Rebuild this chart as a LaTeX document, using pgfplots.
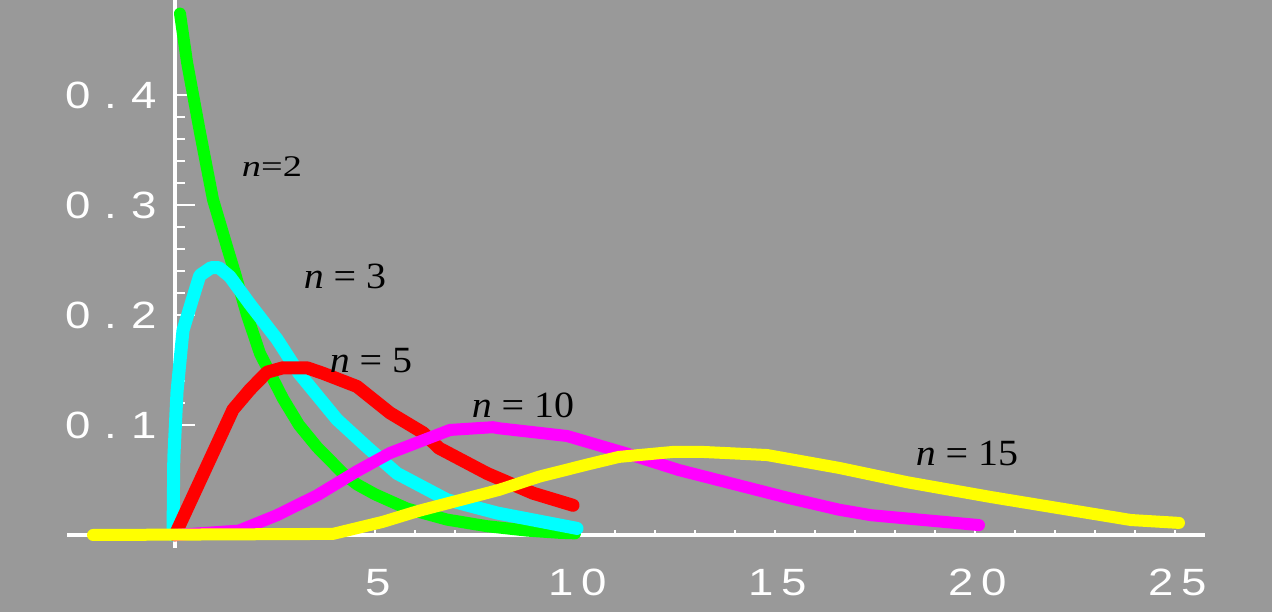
\documentclass[border=0pt]{standalone}
\usepackage{pgfplots}
\pgfplotsset{compat=1.18}
\usepackage{fontspec}
\setmainfont{Liberation Serif}
\newfontfamily\tickfont{Liberation Sans}
\definecolor{bg}{HTML}{999999}
\definecolor{cgreen}{RGB}{0,255,0}
\definecolor{ccyan}{RGB}{0,255,255}
\definecolor{cred}{RGB}{255,0,0}
\definecolor{cmag}{RGB}{255,0,255}
\definecolor{cyel}{RGB}{255,255,0}
\newcommand\cell[1]{\makebox[33pt]{\scalebox{1.2}[1]{#1}}}
\newcommand\lab[2]{\scalebox{#1}[1]{#2}}
\begin{document}
\begin{tikzpicture}[x=1pt,y=1pt]
\fill[bg] (0,0) rectangle (1272,612);
\path[use as bounding box] (0,0) rectangle (1272,612);
\pgfplotsset{common/.style={
  at={(67pt,63.8pt)}, anchor=south west,
  scale only axis, width=1138pt, height=547.8pt,
  xmin=-2.7, xmax=25.75, ymin=-0.012, ymax=0.486,
  clip=false, axis lines=middle}}
% x-axis small ticks
\begin{axis}[common,
  axis line style={draw=none},
  ytick=\empty,
  xtick={-2,-1,1,2,3,4,5,6,7,8,9,10,11,12,13,14,15,16,17,18,19,20,21,22,23,24,25},
  xticklabels=\empty,
  tick align=inside,
  major tick length=5pt,
  every tick/.style={white, line width=2pt},
]
\end{axis}
\begin{axis}[common,
  axis line style={white, line width=3.5pt, -},
  every tick/.style={white, line width=2pt},
  tick align=inside,
  xtick={5,10,15,20,25},
  xticklabels={\cell{5},\cell{1}\cell{0},\cell{1}\cell{5},\cell{2}\cell{0},\cell{2}\cell{5}},
  major x tick style={draw=none},
  ytick={0.1,0.2,0.3,0.4},
  yticklabels={\cell{0}\cell{.}\cell{1},\cell{0}\cell{.}\cell{2},\cell{0}\cell{.}\cell{3},\cell{0}\cell{.}\cell{4}},
  minor y tick num=4,
  major tick length=20pt, minor tick length=10pt,
  ticklabel style={font=\tickfont\fontsize{38}{40}\selectfont, text=white, inner sep=0pt},
  xticklabel style={anchor=base, xshift=3pt, yshift=-61pt},
  yticklabel style={anchor=base east, xshift=-14pt, yshift=-14pt},
  every axis plot/.append style={line join=round, line cap=round},
]
\addplot[cgreen, line width=12pt] coordinates {
(0.125,0.474) (0.3,0.43) (0.625,0.366) (0.95,0.305) (1.3,0.262) (1.5,0.238)
(1.8,0.2) (2.125,0.165) (2.7,0.124) (3.1,0.1) (3.55,0.08) (4.2,0.056)
(4.55,0.046) (5.0,0.037) (5.8,0.024) (6.8,0.014) (7.8,0.008) (8.8,0.004)
(9.6,0.002) (10,0.0015)};
\addplot[ccyan, line width=13pt] coordinates {
(-0.05,0.0) (-0.03,0.07) (0.05,0.13) (0.2,0.186) (0.45,0.216) (0.62,0.236)
(0.9,0.243) (1.1,0.243) (1.37,0.235) (1.87,0.21) (2.55,0.178) (3.1,0.147)
(4.05,0.105) (4.8,0.08) (5.55,0.056) (6.8,0.032) (8.05,0.02) (10.05,0.006)};
\addplot[cred, line width=13pt] coordinates {
(0,0) (1.45,0.114) (1.87,0.132) (2.3,0.148) (2.7,0.152) (3.3,0.152)
(3.7,0.147) (4.55,0.135) (5.375,0.111) (6.2,0.093) (6.6,0.079) (7.8,0.056)
(8.95,0.038) (9.95,0.027)};
\addplot[cmag, line width=12pt] coordinates {
(0,0) (1.6,0.004) (2.55,0.018) (3.55,0.036) (4.55,0.058) (5.375,0.0745)
(6.875,0.0955) (7.95,0.098) (8.1,0.097) (9.8,0.09) (11.3,0.074) (12.6,0.059)
(15.3,0.034) (16.6,0.023) (17.4,0.018) (20.1,0.009)};
\addplot[cyel, line width=12pt] coordinates {
(-2.05,0) (3.95,0.001) (5.2,0.012) (6.1,0.022) (8.1,0.041) (9.1,0.053)
(10.3,0.064) (11.1,0.071) (12.45,0.0755) (13.2,0.0755) (14.8,0.0727)
(16.6,0.061) (18.3,0.048) (20.4,0.0345) (23.9,0.0136) (25.1,0.011)};
\node[anchor=base, font=\fontsize{30}{32}\selectfont, inner sep=0pt] at (axis cs:2.425,0.3255) {\lab{1.28}{\textit{n}=2}};
\node[anchor=base, font=\fontsize{37}{40}\selectfont, inner sep=0pt] at (axis cs:4.25,0.2245) {\lab{1.08}{\textit{n} = 3}};
\node[anchor=base, font=\fontsize{37}{40}\selectfont, inner sep=0pt] at (axis cs:4.9,0.148) {\lab{1.08}{\textit{n} = 5}};
\node[anchor=base, font=\fontsize{37}{40}\selectfont, inner sep=0pt] at (axis cs:8.7,0.1064) {\lab{1.08}{\textit{n} = 10}};
\node[anchor=base, font=\fontsize{37}{40}\selectfont, inner sep=0pt] at (axis cs:19.8,0.0636) {\lab{1.08}{\textit{n} = 15}};
\end{axis}
\end{tikzpicture}
\end{document}
